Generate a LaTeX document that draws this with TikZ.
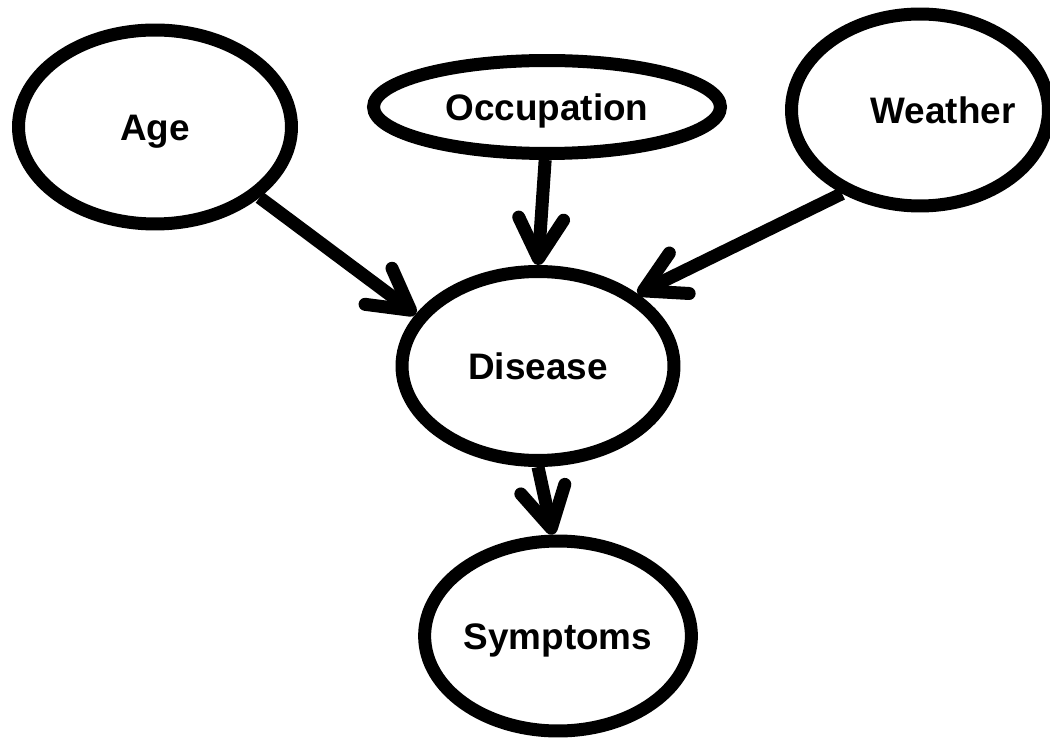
\documentclass[tikz,border=0pt]{standalone}
\usepackage{fontspec}
\setmainfont{Liberation Sans}
\usetikzlibrary{positioning,shapes.geometric,arrows.meta}
\tikzset{>={Straight Barb[length=0.8cm,width=0.9cm,round]}}

\begin{document}
\begin{tikzpicture}[x=0.02cm,y=-0.02cm,
                    var/.style={draw,ellipse,line width=0.26cm,inner sep=0,font=\fontsize{21}{25}\selectfont\bfseries,text height=15.5pt,text depth=0.5pt},
        ]
        \useasboundingbox (0,0) rectangle (1050,739);
        \node[var,minimum width=5.46cm,minimum height=3.88cm] (age) at (155,127) {Age};
        \node[var,minimum width=6.94cm,minimum height=1.86cm] (occ) at (547,107) {Occupation};
        \node[var,minimum width=5.14cm,minimum height=3.84cm] (weather) at (920,110) {\hspace*{0.92cm}\makebox[0pt]{Weather}};
        \node[var,minimum width=5.44cm,minimum height=3.78cm] (dis) at (538,366) {Disease};
        \node[var,minimum width=5.28cm,minimum height=3.8cm] (sym) at (558,636) {Symptoms};
%
        \path[->,line width=0.26cm]
            (age.-34) edge (dis.157)
            (occ.268) edge (dis.90)
            (weather.227) edge (dis.36)
            (dis.270) edge (sym.93)
            ;
    \end{tikzpicture}
\end{document}
